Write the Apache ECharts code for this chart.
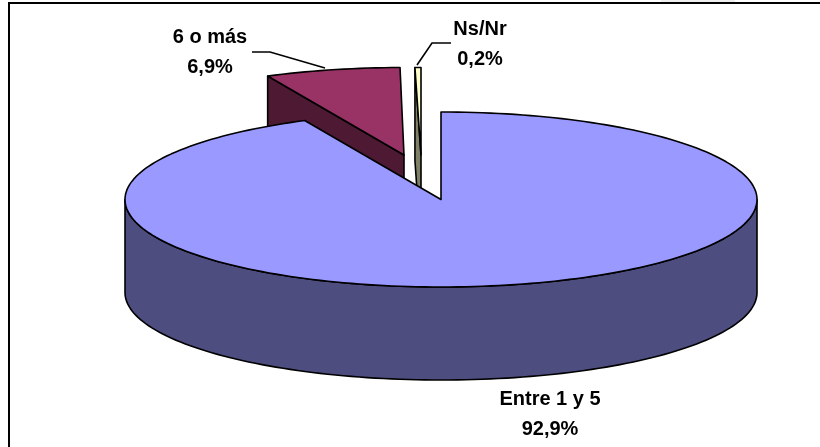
<!DOCTYPE html>
<html>
<head>
<meta charset="utf-8">
<style>html,body{margin:0;padding:0;background:#fff}#c{width:820px;height:447px}</style>
<script src="https://cdn.jsdelivr.net/npm/echarts@6/dist/echarts.min.js"></script>
</head>
<body>
<div id="c"></div>
<script>
var categories = ['Entre 1 y 5', '6 o más', 'Ns/Nr'];
var values = [92.9, 6.9, 0.2];
var topColors = ['#9999FF', '#993366', '#FFFFCC'];
var sideColors = ['#4D4D80', '#4D1933', '#808066'];
var offsets = [[0, 0], [-37, -44.5], [-20, -44.5]];
var labelAnchors = [[550, 414.5], [210, 52], [480, 44]];
var leaders = [null, [[252, 52], [270, 52], [325, 68]], [[417, 65], [432, 43], [451, 43]]];

var CX = 441, CY = 199.5, RX = 316, RY = 87.5, DEPTH = 93;
var MIN_SWEEP = 1.1;
var total = values.reduce(function (a, b) { return a + b; }, 0);
var starts = [];
values.reduce(function (acc, v, i) { starts[i] = acc; return acc + v; }, 0);

function rim(deg, ox, oy) {
  var a = deg * Math.PI / 180;
  return [CX + ox + RX * Math.sin(a), CY + oy - RY * Math.cos(a)];
}
function arc(from, to, ox, oy) {
  var pts = [], n = Math.max(2, Math.ceil(Math.abs(to - from) / 1.5));
  for (var k = 0; k <= n; k++) pts.push(rim(from + (to - from) * k / n, ox, oy));
  return pts;
}
function poly(points, fill) {
  return { type: 'polygon', shape: { points: points },
    style: { fill: fill, stroke: '#000', lineWidth: 1.6, lineJoin: 'round' } };
}
function renderItem(params, api) {
  var i = api.value(0);
  var to = (starts[i] + values[i]) / total * 360;
  var from = Math.min(starts[i] / total * 360, to - MIN_SWEEP);
  var ox = offsets[i][0], oy = offsets[i][1];
  var apex = [CX + ox, CY + oy];
  var kids = [];
  if (i === 0) {
    var front = arc(90, 270, ox, oy);
    var lower = front.map(function (p) { return [p[0], p[1] + DEPTH]; }).reverse();
    kids.push(poly(front.concat(lower), sideColors[i]));
  } else {
    var r = rim(from, ox, oy);
    kids.push(poly([r, apex, [apex[0], apex[1] + DEPTH], [r[0], r[1] + DEPTH]], sideColors[i]));
  }
  kids.push(poly([apex].concat(arc(from, to, ox, oy)), topColors[i]));
  if (leaders[i]) {
    kids.push({ type: 'polyline', shape: { points: leaders[i] },
      style: { fill: null, stroke: '#000', lineWidth: 1.6 } });
  }
  kids.push({ type: 'text', style: {
    x: labelAnchors[i][0], y: labelAnchors[i][1],
    text: categories[i] + '\n' + values[i].toFixed(1).replace('.', ',') + '%',
    font: 'bold 20px "Liberation Sans", Arial, sans-serif', lineHeight: 30,
    fill: '#000', align: 'center', verticalAlign: 'middle' } });
  return { type: 'group', children: kids };
}
var chart = echarts.init(document.getElementById('c'), null, { renderer: 'canvas' });
chart.setOption({
  animation: false,
  backgroundColor: '#fff',
  graphic: [
    { type: 'rect', shape: { x: 661, y: 0, width: 74, height: 2 },
      style: { fill: '#eeeeee' }, silent: true },
    { type: 'rect', shape: { x: 9, y: 3, width: 830, height: 470 },
      style: { fill: 'none', stroke: '#000', lineWidth: 2 }, silent: true }
  ],
  series: [{
    type: 'custom', coordinateSystem: 'none', silent: true,
    renderItem: renderItem,
    encode: { value: 0 },
    data: [[1], [2], [0]]
  }]
});
</script>
</body>
</html>
